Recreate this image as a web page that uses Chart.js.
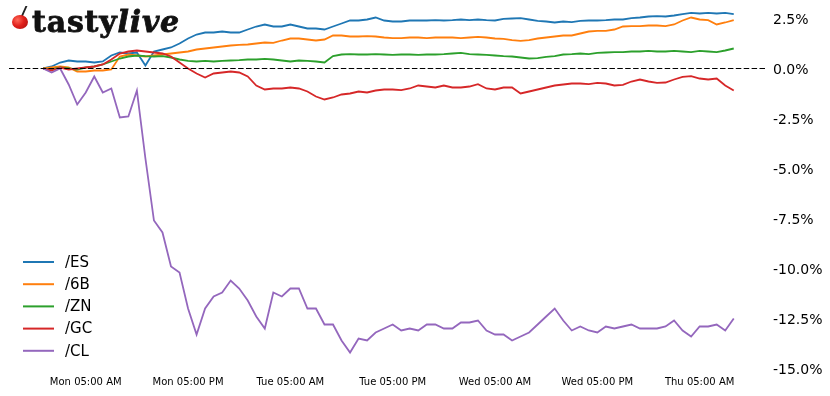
<!DOCTYPE html>
<html>
<head>
<meta charset="utf-8">
<script src="https://cdn.jsdelivr.net/npm/chart.js@4.4.1/dist/chart.umd.min.js"></script>
<style>
  body { margin: 0; background: #fff; }
  #wrap { position: relative; width: 830px; height: 396px; }
  #logo { position: absolute; left: 0; top: 0; height: 44px; width: 195px; pointer-events: none; }
  #cherry { position: absolute; left: 12px; top: 15px; width: 16px; height: 14px; border-radius: 50%;
            background: radial-gradient(circle at 35% 35%, #ff6a5a 0%, #e0201b 45%, #a30d0d 100%); }
  #stem { position: absolute; left: 23px; top: 6px; width: 6px; height: 11px;
          border-left: 2px solid #222; transform: skewX(-24deg); }
  #word { position: absolute; left: 32px; top: 4px; font-family: "DejaVu Serif", serif; font-weight: bold;
          font-size: 30px; line-height: 35px; color: #111; letter-spacing: 0.8px; white-space: nowrap;
          -webkit-text-stroke: 0.8px #111; }
  #word i { font-style: italic; }
</style>
</head>
<body>
<div id="wrap">
  <canvas id="chart"></canvas>
  <div id="logo"><div id="stem"></div><div id="cherry"></div><div id="word">tasty<i>live</i></div></div>
</div>
<script>
// hours since Mon 00:00
const hours = [0, 1, 2, 3, 4, 5, 6, 7, 8, 9, 10, 11, 12, 13, 14, 15, 16, 17, 18, 19, 20,
  21, 22, 23, 24, 25, 26, 27, 28, 29, 30, 31, 32, 33, 34, 35, 36, 37, 38, 39, 40,
  41, 42, 43, 44, 45, 46, 47, 48, 49, 50, 51, 52, 53, 54, 55, 56, 57, 58, 59, 60,
  61, 62, 63, 64, 65, 66, 67, 68, 69, 70, 71, 72, 73, 74, 75, 76, 77, 78, 79, 80, 81];

const esVals = [0, 0.1, 0.3, 0.4, 0.35, 0.35, 0.3, 0.35, 0.65, 0.8, 0.75, 0.8, 0.15, 0.85, 0.95,
  1.05, 1.25, 1.5, 1.7, 1.8, 1.8, 1.85, 1.8, 1.8, 1.95, 2.1, 2.2, 2.1, 2.1, 2.2, 2.1,
  2.0, 2.0, 1.95, 2.1, 2.25, 2.4, 2.4, 2.45, 2.55, 2.4, 2.35, 2.35, 2.4, 2.4, 2.4, 2.42,
  2.4, 2.42, 2.45, 2.42, 2.45, 2.42, 2.4, 2.48, 2.5, 2.52, 2.45, 2.38, 2.35, 2.3, 2.35,
  2.32, 2.38, 2.4, 2.4, 2.42, 2.45, 2.45, 2.52, 2.55, 2.6, 2.62, 2.6, 2.65, 2.72, 2.78,
  2.75, 2.78, 2.75, 2.78, 2.72];

const gbpVals = [0, 0.05, 0.1, 0.05, -0.15, -0.15, -0.1, -0.1, -0.05, 0.6, 0.7, 0.65, 0.6, 0.65,
  0.7, 0.75, 0.8, 0.85, 0.95, 1.0, 1.05, 1.1, 1.15, 1.18, 1.2, 1.25, 1.3, 1.28, 1.4, 1.5,
  1.5, 1.45, 1.4, 1.45, 1.65, 1.65, 1.6, 1.6, 1.62, 1.6, 1.55, 1.52, 1.52, 1.55, 1.55,
  1.52, 1.55, 1.55, 1.55, 1.52, 1.55, 1.58, 1.55, 1.5, 1.48, 1.42, 1.38, 1.42, 1.5, 1.55,
  1.6, 1.65, 1.65, 1.75, 1.85, 1.88, 1.88, 1.95, 2.1, 2.12, 2.12, 2.15, 2.15, 2.12, 2.2,
  2.4, 2.55, 2.45, 2.42, 2.2, 2.3, 2.42];

const znVals = [0, -0.05, 0.05, 0.0, -0.05, 0.05, 0.1, 0.2, 0.35, 0.5, 0.6, 0.65, 0.62, 0.6,
  0.62, 0.55, 0.45, 0.38, 0.35, 0.38, 0.35, 0.38, 0.4, 0.42, 0.45, 0.45, 0.48, 0.45, 0.4,
  0.35, 0.4, 0.38, 0.35, 0.3, 0.62, 0.7, 0.72, 0.7, 0.7, 0.72, 0.7, 0.68, 0.7, 0.7, 0.68,
  0.7, 0.7, 0.72, 0.75, 0.78, 0.72, 0.7, 0.68, 0.65, 0.62, 0.6, 0.55, 0.5, 0.52, 0.58,
  0.62, 0.7, 0.72, 0.75, 0.72, 0.78, 0.8, 0.82, 0.82, 0.85, 0.85, 0.88, 0.85, 0.85, 0.88,
  0.85, 0.82, 0.88, 0.85, 0.82, 0.9, 1.0];

const gcVals = [0, -0.1, 0.05, -0.05, 0.0, 0.05, 0.1, 0.2, 0.45, 0.75, 0.85, 0.9, 0.85, 0.8,
  0.75, 0.6, 0.3, 0.0, -0.25, -0.45, -0.25, -0.2, -0.15, -0.2, -0.4, -0.85, -1.05, -1.0,
  -1.0, -0.95, -1.0, -1.15, -1.4, -1.55, -1.45, -1.3, -1.25, -1.15, -1.2, -1.1, -1.05,
  -1.05, -1.08, -1.0, -0.85, -0.9, -0.95, -0.85, -0.95, -0.95, -0.9, -0.78, -1.0, -1.05,
  -0.95, -0.95, -1.25, -1.15, -1.05, -0.95, -0.85, -0.8, -0.75, -0.75, -0.78, -0.72,
  -0.75, -0.85, -0.82, -0.65, -0.55, -0.65, -0.72, -0.7, -0.55, -0.42, -0.38, -0.5,
  -0.55, -0.5, -0.85, -1.1];

const clVals = [0, -0.2, 0.0, -0.8, -1.8, -1.2, -0.4, -1.2, -1.0, -2.45, -2.4, -1.1, -4.5,
  -7.6, -8.2, -9.9, -10.2, -12.0, -13.3, -12.0, -11.4, -11.2, -10.6, -11.0, -11.6, -12.4,
  -13.0, -11.2, -11.4, -11.0, -11.0, -12.0, -12.0, -12.8, -12.8, -13.6, -14.2, -13.5,
  -13.6, -13.2, -13.0, -12.8, -13.1, -13.0, -13.1, -12.8, -12.8, -13.0, -13.0, -12.7,
  -12.7, -12.6, -13.1, -13.3, -13.3, -13.6, -13.4, -13.2, -12.8, -12.4, -12.0, -12.6,
  -13.1, -12.9, -13.1, -13.2, -12.9, -13.0, -12.9, -12.8, -13.0, -13.0, -13.0, -12.9,
  -12.6, -13.1, -13.4, -12.9, -12.9, -12.8, -13.1, -12.5];

const seriesNames = ['/ES', '/6B', '/ZN', '/GC', '/CL'];
const seriesColors = ['#1f77b4', '#ff7f0e', '#2ca02c', '#d62728', '#9467bd'];
const seriesValues = [esVals, gbpVals, znVals, gcVals, clVals];

const xTickHours = [5, 17, 29, 41, 53, 65, 77];
const xTickLabels = ['Mon 05:00 AM', 'Mon 05:00 PM', 'Tue 05:00 AM', 'Tue 05:00 PM',
  'Wed 05:00 AM', 'Wed 05:00 PM', 'Thu 05:00 AM'];
const yTickValues = [2.5, 0, -2.5, -5, -7.5, -10, -12.5, -15];

// dashed zero line across the plot
const zeroLine = {
  id: 'zeroLine',
  afterDatasetsDraw(chart) {
    const { ctx, chartArea } = chart;
    const y = chart.scales.y.getPixelForValue(0);
    ctx.save();
    ctx.strokeStyle = '#000';
    ctx.lineWidth = 1.2;
    ctx.setLineDash([5.5, 2.4]);
    ctx.beginPath();
    ctx.moveTo(chartArea.left, y);
    ctx.lineTo(chartArea.right, y);
    ctx.stroke();
    ctx.restore();
  }
};

// legend in the lower left corner
const cornerLegend = {
  id: 'cornerLegend',
  afterDraw(chart) {
    const ctx = chart.ctx;
    ctx.save();
    ctx.font = '15px "DejaVu Sans"';
    ctx.textBaseline = 'middle';
    chart.data.datasets.forEach((ds, i) => {
      const y = 262.5 + i * 22.2;
      ctx.strokeStyle = ds.borderColor;
      ctx.lineWidth = 2;
      ctx.beginPath();
      ctx.moveTo(23, y - 0.5);
      ctx.lineTo(54, y - 0.5);
      ctx.stroke();
      ctx.fillStyle = '#000';
      ctx.fillText(ds.label, 65, y + 0.5);
    });
    ctx.restore();
  }
};

const datasets = seriesNames.map((name, i) => ({
  label: name,
  data: hours.map((h, j) => ({ x: h, y: seriesValues[i][j] })),
  borderColor: seriesColors[i],
  borderWidth: 1.8,
  pointRadius: 0,
  tension: 0,
  order: seriesNames.length - i
}));

new Chart(document.getElementById('chart'), {
  type: 'line',
  data: { datasets: datasets },
  options: {
    responsive: true,
    maintainAspectRatio: false,
    animation: false,
    layout: { padding: { left: 9, top: 0, right: 0, bottom: 0 } },
    plugins: {
      legend: { display: false },
      tooltip: { enabled: false }
    },
    scales: {
      x: {
        type: 'linear',
        min: -4.0,
        max: 84.9,
        grid: { display: false, drawTicks: false },
        border: { display: false },
        afterBuildTicks: (scale) => { scale.ticks = xTickHours.map(v => ({ value: v })); },
        afterFit: (scale) => { scale.height = 24.5; scale.paddingLeft = 0; scale.paddingRight = 0; },
        ticks: {
          autoSkip: false,
          maxRotation: 0,
          padding: 5,
          color: '#000',
          font: { family: 'DejaVu Sans', size: 10 },
          callback: (v) => xTickLabels[xTickHours.indexOf(v)]
        }
      },
      y: {
        position: 'right',
        min: -15.15,
        max: 3.425,
        grid: { display: false, drawTicks: false },
        border: { display: false },
        afterBuildTicks: (scale) => { scale.ticks = yTickValues.map(v => ({ value: v })); },
        afterFit: (scale) => { scale.width = 63; scale.paddingTop = 0; scale.paddingBottom = 0; },
        ticks: {
          padding: 6,
          labelOffset: 1.5,
          color: '#000',
          font: { family: 'DejaVu Sans', size: 14 },
          callback: (v) => v.toFixed(1) + '%'
        }
      }
    }
  },
  plugins: [zeroLine, cornerLegend]
});
</script>
</body>
</html>
